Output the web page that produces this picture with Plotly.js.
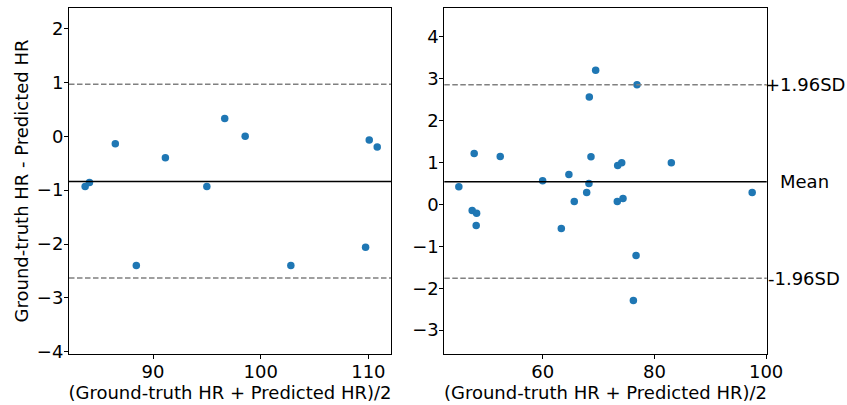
<!DOCTYPE html>
<html>
<head>
<meta charset="utf-8">
<script src="https://cdn.plot.ly/plotly-3.0.1.min.js"></script>
<style>html,body{margin:0;padding:0;background:#fff;}#chart{width:847px;height:405px;}</style>
</head>
<body>
<div id="chart"></div>
<script>
// Left panel data
const leftMeanX = [83.7, 84.1, 86.5, 88.45, 91.15, 95.0, 96.66, 98.56, 102.8, 109.74, 110.08, 110.82];
const leftDiff  = [-0.93, -0.86, -0.14, -2.40, -0.40, -0.93, 0.33, 0.0, -2.40, -2.06, -0.07, -0.20];
const leftMean = -0.84;
const leftUpper = 0.966;
const leftLower = -2.63;

// Right panel data
const rightMeanX = [45.0, 47.39, 47.75, 48.18, 48.11, 52.41, 60.0, 63.34, 64.7, 65.66, 67.88, 68.29, 68.35, 68.65, 69.49, 73.43, 74.15, 73.36, 74.38, 76.89, 76.72, 76.24, 83.03, 97.5];
const rightDiff  = [0.42, -0.143, 1.218, -0.208, -0.50, 1.147, 0.564, -0.573, 0.715, 0.07, 0.287, 0.50, 2.563, 1.137, 3.206, 0.932, 0.994, 0.07, 0.14, 2.857, -1.22, -2.29, 0.994, 0.287];
const rightMean = 0.545;
const rightUpper = 2.857;
const rightLower = -1.76;

const leftXTicks = [90, 100, 110];
const leftYTicks = [-4, -3, -2, -1, 0, 1, 2];
const rightXTicks = [60, 80, 100];
const rightYTicks = [-3, -2, -1, 0, 1, 2, 3, 4];
const limitLabels = ['+1.96SD', 'Mean', '-1.96SD'];
const xTitle = '(Ground-truth HR + Predicted HR)/2';
const yTitle = 'Ground-truth HR - Predicted HR';

const FONT = 'DejaVu Sans, sans-serif';
const blue = '#1f77b4';

const traces = [
  {x: leftMeanX, y: leftDiff, type: 'scatter', mode: 'markers', xaxis: 'x', yaxis: 'y',
   marker: {color: blue, size: 7.5}, hoverinfo: 'x+y'},
  {x: rightMeanX, y: rightDiff, type: 'scatter', mode: 'markers', xaxis: 'x2', yaxis: 'y2',
   marker: {color: blue, size: 7.5}, hoverinfo: 'x+y'}
];

function hline(xr, yr, y, dash, color, width) {
  return {type: 'line', xref: xr + ' domain', yref: yr, x0: 0, x1: 1, y0: y, y1: y,
          line: {color: color, width: width, dash: dash}};
}

const shapes = [
  hline('x', 'y', leftMean, 'solid', 'black', 1.5),
  hline('x', 'y', leftUpper, '5.5px,2.5px', '#808080', 1.4),
  hline('x', 'y', leftLower, '5.5px,2.5px', '#808080', 1.4),
  hline('x2', 'y2', rightMean, 'solid', 'black', 1.5),
  hline('x2', 'y2', rightUpper, '5.5px,2.5px', '#808080', 1.4),
  hline('x2', 'y2', rightLower, '5.5px,2.5px', '#808080', 1.4)
];

const annotations = [
  {xref: 'x2 domain', yref: 'y2', x: 1, y: rightUpper, text: limitLabels[0], showarrow: false,
   xanchor: 'left', yanchor: 'middle', xshift: -4, font: {family: FONT, size: 18, color: 'black'}},
  {xref: 'x2 domain', yref: 'y2', x: 1, y: rightMean, text: limitLabels[1], showarrow: false,
   xanchor: 'left', yanchor: 'middle', xshift: 11, font: {family: FONT, size: 18, color: 'black'}},
  {xref: 'x2 domain', yref: 'y2', x: 1, y: rightLower, text: limitLabels[2], showarrow: false,
   xanchor: 'left', yanchor: 'middle', xshift: -1, font: {family: FONT, size: 18, color: 'black'}}
];

const axBase = {showline: true, mirror: true, linecolor: 'black', linewidth: 1,
  ticks: 'outside', ticklen: 4, tickcolor: 'black', tickwidth: 1, ticklabelstandoff: -3,
  showgrid: false, zeroline: false, tickfont: {family: FONT, size: 18, color: 'black'}};

const layout = {
  width: 847, height: 405,
  margin: {l: 0, r: 0, t: 0, b: 0},
  paper_bgcolor: 'white', plot_bgcolor: 'white',
  showlegend: false,
  font: {family: FONT, size: 18, color: 'black'},
  xaxis: Object.assign({}, axBase, {domain: [69/847, 391/847], range: [82.2, 112.1],
    tickvals: leftXTicks, anchor: 'y',
    title: {text: xTitle, font: {family: FONT, size: 18}, standoff: 2}}),
  yaxis: Object.assign({}, axBase, {domain: [1 - 354/405, 1 - 8/405], range: [-4.04, 2.38],
    tickvals: leftYTicks, anchor: 'x',
    title: {text: yTitle, font: {family: FONT, size: 18}, standoff: 3}}),
  xaxis2: Object.assign({}, axBase, {domain: [444.3/847, 766.7/847], range: [42.4, 100.1],
    tickvals: rightXTicks, anchor: 'y2',
    title: {text: xTitle, font: {family: FONT, size: 18}, standoff: 2}}),
  yaxis2: Object.assign({}, axBase, {domain: [1 - 354/405, 1 - 8/405], range: [-3.57, 4.69],
    tickvals: rightYTicks, anchor: 'x2'}),
  shapes: shapes,
  annotations: annotations
};

Plotly.newPlot('chart', traces, layout, {displayModeBar: false, staticPlot: true});
</script>
</body>
</html>
